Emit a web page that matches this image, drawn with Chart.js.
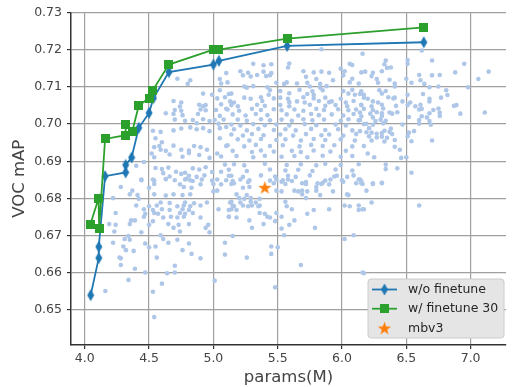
<!DOCTYPE html>
<html>
<head>
<meta charset="utf-8">
<script src="https://cdn.jsdelivr.net/npm/chart.js@4/dist/chart.umd.min.js"></script>
<style>
  html, body { margin: 0; padding: 0; background: #fff; }
  #chart { display: block; }
</style>
</head>
<body>
<canvas id="chart" width="514" height="387"></canvas>
<script>
// axis ticks
const xTicks = [4.0, 4.5, 5.0, 5.5, 6.0, 6.5, 7.0];
const yTicks = [0.65, 0.66, 0.67, 0.68, 0.69, 0.70, 0.71, 0.72, 0.73];

const seriesLabels = ["w/o finetune", "w/ finetune 30", "mbv3"];

// w/o finetune
const woParams = [4.046, 4.109, 4.109, 4.158, 4.318, 4.318, 4.364, 4.42, 4.50, 4.534, 4.654, 5.0, 5.043, 5.573, 6.636];
const woMap    = [0.654, 0.664, 0.667, 0.686, 0.687, 0.689, 0.691, 0.699, 0.703, 0.707, 0.714, 0.716, 0.717, 0.721, 0.722];

// w/ finetune 30
const ftParams = [4.043, 4.107, 4.112, 4.158, 4.318, 4.318, 4.369, 4.42, 4.50, 4.527, 4.654, 5.0, 5.043, 5.573, 6.636];
const ftMap    = [0.673, 0.680, 0.672, 0.696, 0.697, 0.700, 0.698, 0.705, 0.707, 0.709, 0.716, 0.720, 0.720, 0.723, 0.726];

// mbv3
const mbv3Params = [5.40];
const mbv3Map = [0.683];

const cloud = [
  [4.72,0.7122],[4.82,0.7118],[4.80,0.7108],
  [4.69,0.7062],[4.75,0.7058],[4.74,0.7047],[4.70,0.7038],[4.75,0.7036],[4.63,0.7029],[4.69,0.7027],[4.76,0.7024],
  [4.92,0.7082],[4.99,0.7079],[4.89,0.7052],[4.92,0.7048],[4.94,0.7051],[4.90,0.7039],[4.94,0.7037],[4.88,0.7027],
  [5.05,0.7121],[5.06,0.7109],[5.10,0.7137],[5.11,0.7112],[5.05,0.7091],[5.03,0.7069],[5.09,0.7072],[5.12,0.7081],
  [5.06,0.7053],[5.10,0.7041],[5.02,0.7038],[5.05,0.7022],[5.08,0.7012],[5.04,0.7001],
  [4.70,0.7012],[4.78,0.7009],[4.84,0.7011],[4.87,0.7002],[4.92,0.7013],[4.97,0.7008],[5.01,0.7011],[5.05,0.6989],[5.10,0.6992],
  [4.69,0.6983],[4.75,0.6988],[4.82,0.6991],[4.87,0.6986],[4.92,0.6989],[4.97,0.6981],
  [4.53,0.6982],[4.59,0.6979],[4.55,0.6962],[4.60,0.6951],[4.58,0.6941],[4.54,0.6938],[4.59,0.6931],[4.63,0.6928],
  [4.69,0.6942],[4.75,0.6931],[4.81,0.6929],[4.85,0.6941],[4.90,0.6938],[4.95,0.6931],
  [4.52,0.6921],[4.54,0.6911],[4.66,0.6918],[4.76,0.6912],[4.81,0.6922],[4.89,0.6917],[4.97,0.6909],[5.06,0.6913],
  [4.40,0.6888],[4.46,0.6898],[4.55,0.6882],[4.60,0.6879],[4.65,0.6883],[4.71,0.6872],[4.78,0.6869],[4.84,0.6881],
  [4.89,0.6878],[4.94,0.6884],[4.99,0.6871],[4.61,0.6868],[4.66,0.6859],[4.75,0.6866],[4.81,0.6861],[4.87,0.6858],[4.93,0.6862],
  [4.44,0.6851],[4.54,0.6848],[4.63,0.6852],[4.70,0.6849],[4.79,0.6853],[4.84,0.6847],[4.91,0.6851],[4.99,0.6848],
  [5.05,0.6962],[5.10,0.6941],[5.03,0.6921],[5.09,0.6891],[5.06,0.6872],[5.12,0.6861],

  [5.84,0.7201],[6.16,0.7189],
  [5.31,0.7162],[5.39,0.7158],[5.45,0.7161],[5.59,0.7163],[6.06,0.7162],[6.08,0.7159],
  [5.58,0.7152],[5.99,0.7149],
  [5.21,0.7142],[5.27,0.7138],[5.39,0.7141],[5.45,0.7137],[5.70,0.7142],[5.78,0.7139],[5.84,0.7141],[5.90,0.7138],[6.02,0.7142],[6.15,0.7139],
  [5.23,0.7131],[5.29,0.7128],[5.34,0.7132],[5.41,0.7129],[5.44,0.7131],[5.72,0.7127],[6.01,0.7131],
  [5.80,0.7121],[5.93,0.7118],[6.08,0.7122],
  [5.49,0.7111],[5.55,0.7108],[5.57,0.7112],[5.65,0.7109],[5.73,0.7111],[5.83,0.7108],[6.06,0.7112],[6.13,0.7109],
  [5.24,0.7101],[5.26,0.7098],[5.31,0.7102],[5.42,0.7099],[5.75,0.7101],[5.83,0.7098],[5.88,0.7102],
  [5.44,0.7091],[5.52,0.7089],[5.67,0.7092],[5.77,0.7088],[5.85,0.7091],[6.01,0.7089],[6.08,0.7092],[6.15,0.7088],
  [5.14,0.7082],[5.43,0.7079],[5.59,0.7083],[5.73,0.7081],[5.78,0.7078],[6.05,0.7082],[6.10,0.7079],
  [5.24,0.7071],[5.29,0.7068],[5.37,0.7072],[5.47,0.7069],[5.52,0.7071],[5.58,0.7068],[5.70,0.7072],[5.78,0.7069],[5.87,0.7071],[5.99,0.7068],
  [5.13,0.7061],[5.16,0.7058],[5.38,0.7062],[5.59,0.7059],[5.65,0.7061],[5.71,0.7058],[5.82,0.7062],[5.90,0.7059],[5.92,0.7061],[6.03,0.7058],[6.09,0.7062],
  [5.14,0.7051],[5.19,0.7048],[5.34,0.7052],[5.40,0.7049],[5.52,0.7051],[5.59,0.7048],[5.75,0.7052],[5.87,0.7049],[5.95,0.7051],[6.04,0.7048],[6.15,0.7052],
  [5.11,0.7039],[5.20,0.7036],[5.30,0.7041],[5.37,0.7038],[5.47,0.7040],[5.53,0.7037],[5.63,0.7039],[5.70,0.7036],[5.80,0.7041],[5.86,0.7038],[5.97,0.7040],[6.05,0.7037],[6.11,0.7039],
  [5.15,0.7026],[5.25,0.7023],[5.33,0.7027],[5.42,0.7024],[5.57,0.7026],[5.66,0.7023],[5.76,0.7027],[5.82,0.7024],[5.92,0.7026],[6.01,0.7023],[6.09,0.7027],
  [5.19,0.7012],[5.26,0.7009],[5.37,0.7013],[5.44,0.7010],[5.53,0.7012],[5.61,0.7009],[5.70,0.7013],[5.77,0.7010],[5.86,0.7012],[5.99,0.7009],[6.05,0.7013],[6.13,0.7010],
  [5.14,0.6999],[5.21,0.6996],[5.31,0.7000],[5.40,0.6997],[5.49,0.6999],[5.59,0.6996],[5.71,0.7000],[5.80,0.6997],[5.95,0.6999],[6.03,0.6996],[6.17,0.7000],
  [5.16,0.6986],[5.26,0.6983],[5.35,0.6987],[5.47,0.6984],[5.56,0.6986],[5.64,0.6983],[5.76,0.6987],[5.87,0.6984],[5.97,0.6986],[6.08,0.6983],
  [5.14,0.6972],[5.23,0.6969],[5.30,0.6973],[5.39,0.6970],[5.52,0.6972],[5.62,0.6969],[5.72,0.6973],[5.84,0.6970],[5.90,0.6972],[6.01,0.6969],[6.11,0.6973],
  [5.19,0.6959],[5.28,0.6956],[5.37,0.6960],[5.49,0.6957],[5.56,0.6959],[5.68,0.6956],[5.78,0.6960],[5.87,0.6957],[5.99,0.6959],[6.10,0.6956],
  [5.11,0.6943],[5.24,0.6940],[5.33,0.6944],[5.44,0.6941],[5.54,0.6943],[5.67,0.6940],[5.76,0.6944],[5.85,0.6941],[5.94,0.6943],[6.08,0.6940],
  [5.15,0.6928],[5.30,0.6925],[5.37,0.6929],[5.47,0.6926],[5.61,0.6928],[5.68,0.6925],[5.78,0.6929],[5.91,0.6926],[6.03,0.6928],
  [5.18,0.6914],[5.31,0.6911],[5.40,0.6915],[5.53,0.6912],[5.63,0.6914],[5.73,0.6911],[5.85,0.6915],[5.99,0.6912],[6.08,0.6914],
  [5.16,0.6892],[5.24,0.6889],[5.40,0.6893],[5.57,0.6890],[5.68,0.6892],[5.80,0.6889],[5.87,0.6893],[5.99,0.6890],[6.13,0.6892],
  [5.12,0.6877],[5.26,0.6874],[5.44,0.6878],[5.56,0.6875],[5.66,0.6877],[5.77,0.6874],[5.95,0.6878],[6.08,0.6875],
  [5.14,0.6861],[5.23,0.6858],[5.37,0.6862],[5.48,0.6859],[5.58,0.6861],[5.64,0.6858],[5.75,0.6862],[5.94,0.6859],[5.96,0.6861],[6.04,0.6858],[6.09,0.6862],
  [5.15,0.6847],[5.27,0.6844],[5.44,0.6848],[5.53,0.6845],[5.61,0.6847],[5.72,0.6844],[5.87,0.6848],[6.01,0.6845],[6.15,0.6847],

  [6.62,0.7198],
  [6.34,0.7171],[6.51,0.7172],[6.70,0.7171],[6.95,0.7162],[6.33,0.7161],[6.51,0.7162],
  [6.35,0.7151],[6.38,0.7152],
  [6.18,0.7141],[6.24,0.7138],[6.31,0.7142],[6.88,0.7139],[7.14,0.7141],
  [6.23,0.7129],[6.60,0.7132],[6.70,0.7131],[6.76,0.7132],
  [6.27,0.7121],[6.37,0.7119],[6.50,0.7122],[6.61,0.7118],[7.06,0.7121],
  [6.28,0.7111],[6.41,0.7109],[6.54,0.7111],[6.64,0.7108],
  [6.41,0.7101],[6.68,0.7099],[6.75,0.7101],[6.98,0.7099],
  [6.29,0.7091],[6.34,0.7089],[6.81,0.7091],
  [6.14,0.7081],[6.17,0.7079],[6.31,0.7082],[6.51,0.7079],[6.63,0.7081],[6.82,0.7078],
  [6.17,0.7071],[6.20,0.7068],[6.36,0.7072],[6.40,0.7069],[6.41,0.7071],[6.68,0.7068],[6.77,0.7071],
  [6.24,0.7061],[6.28,0.7058],[6.47,0.7061],[6.53,0.7058],[6.68,0.7061],
  [6.15,0.7051],[6.23,0.7048],[6.31,0.7052],[6.42,0.7049],[6.51,0.7051],[6.57,0.7048],[6.61,0.7052],[6.87,0.7049],[6.89,0.7051],
  [6.17,0.7041],[6.24,0.7038],[6.32,0.7042],[6.60,0.7039],[6.62,0.7041],[6.71,0.7038],[6.75,0.7042],
  [6.14,0.7031],[6.22,0.7028],[6.27,0.7032],[6.31,0.7029],[6.37,0.7031],[6.39,0.7028],[6.43,0.7032],[6.68,0.7029],[6.76,0.7031],[6.92,0.7028],[7.11,0.7031],
  [6.15,0.7021],[6.24,0.7018],[6.31,0.7022],[6.52,0.7019],[6.62,0.7021],[6.66,0.7018],[6.76,0.7022],
  [6.14,0.7011],[6.26,0.7008],[6.30,0.7012],[6.34,0.7009],[6.60,0.7011],[6.68,0.7008],
  [6.19,0.7001],[6.24,0.6998],[6.32,0.7002],[6.47,0.6999],[6.60,0.7001],[6.69,0.6998],
  [6.21,0.6989],[6.38,0.6988],[6.14,0.6981],[6.19,0.6978],[6.33,0.6982],[6.37,0.6979],[6.56,0.6981],
  [6.23,0.6977],[6.27,0.6974],[6.31,0.6976],[6.39,0.6973],[6.52,0.6977],
  [6.21,0.6967],[6.27,0.6964],[6.31,0.6966],[6.35,0.6963],[6.51,0.6967],
  [6.23,0.6956],[6.33,0.6953],[6.41,0.6957],[6.54,0.6954],[6.70,0.6956],
  [6.17,0.6941],[6.41,0.6939],[6.45,0.6931],
  [6.20,0.6921],[6.25,0.6911],[6.46,0.6909],[6.50,0.6911],
  [6.34,0.6891],[6.34,0.6879],[6.43,0.6881],[6.54,0.6869],
  [6.14,0.6851],[6.24,0.6841],[6.31,0.6842],

  [4.44,0.6849],[4.53,0.6851],[4.54,0.6839],[4.63,0.6852],[4.74,0.6838],[4.78,0.6851],[4.82,0.6849],[4.90,0.6838],[5.00,0.6839],[5.03,0.6851],[5.06,0.6838],[5.10,0.6849],
  [4.28,0.6831],[4.50,0.6829],[4.77,0.6831],[4.83,0.6829],
  [4.35,0.6811],[4.41,0.6809],[4.54,0.6811],[4.63,0.6808],[4.69,0.6811],[4.76,0.6809],[4.82,0.6811],[5.00,0.6819],[5.03,0.6821],
  [4.37,0.6821],[4.42,0.6799],[4.22,0.6801],
  [4.59,0.6789],[4.66,0.6788],[4.78,0.6789],[4.85,0.6787],[4.95,0.6789],[4.40,0.6781],[4.50,0.6779],[4.56,0.6781],
  [4.72,0.6779],[4.77,0.6781],[4.82,0.6779],[4.90,0.6781],[5.13,0.6789],
  [4.46,0.6771],[4.53,0.6769],[4.60,0.6771],[4.66,0.6769],[4.76,0.6771],[4.81,0.6769],[5.04,0.6771],[5.12,0.6769],
  [4.24,0.6761],[4.47,0.6759],[4.54,0.6761],[4.57,0.6759],[4.74,0.6761],[4.78,0.6759],[4.84,0.6761],
  [4.46,0.6751],[4.61,0.6749],[4.67,0.6751],[4.72,0.6749],[4.77,0.6751],[4.90,0.6749],[5.12,0.6751],
  [4.39,0.6741],[4.53,0.6739],[4.36,0.6741],
  [4.19,0.6731],[4.24,0.6729],[4.35,0.6731],[4.50,0.6729],[4.65,0.6731],[4.73,0.6729],[4.81,0.6731],[4.96,0.6729],
  [4.69,0.6721],[4.74,0.6711],[4.44,0.6709],[4.94,0.6721],[4.97,0.6709],[4.23,0.6711],
  [4.59,0.6701],[4.61,0.6691],[4.34,0.6699],[4.31,0.6691],[4.35,0.6689],
  [4.22,0.6681],[4.47,0.6679],[4.65,0.6681],[4.81,0.6679],[5.09,0.6681],
  [4.30,0.6671],[4.50,0.6669],[4.55,0.6671],[4.72,0.6689],
  [4.32,0.6661],[4.38,0.6659],[4.76,0.6661],[4.83,0.6651],[5.09,0.6649],
  [4.27,0.6641],[4.28,0.6639],[4.56,0.6641],[4.90,0.6639],
  [4.28,0.6621],[4.70,0.6619],
  [4.39,0.6611],
  [4.47,0.6601],[4.64,0.6599],[4.70,0.6601],
  [4.34,0.6581],[5.01,0.6579],
  [4.60,0.6571],
  [4.16,0.6551],[4.53,0.6549],
  [4.54,0.6481],

  [5.14,0.6839],[5.16,0.6841],[5.23,0.6829],[5.28,0.6831],[5.21,0.6851],[5.28,0.6849],[5.47,0.6841],[5.49,0.6851],
  [5.54,0.6849],[5.56,0.6839],[5.58,0.6851],[5.69,0.6841],[5.72,0.6839],[5.81,0.6841],[5.84,0.6839],[5.85,0.6842],
  [5.90,0.6838],[5.91,0.6851],[6.00,0.6849],[6.11,0.6841],[6.13,0.6851],[6.16,0.6839],
  [5.49,0.6821],[5.53,0.6819],[5.63,0.6821],[5.66,0.6819],[5.69,0.6821],[5.73,0.6819],[5.80,0.6821],[5.93,0.6819],[5.80,0.6831],
  [5.18,0.6811],[5.26,0.6809],[5.69,0.6811],[5.83,0.6809],[6.04,0.6811],[6.05,0.6809],
  [5.20,0.6801],[5.24,0.6799],[5.29,0.6801],[5.36,0.6799],[5.72,0.6801],
  [5.14,0.6791],[5.21,0.6789],[5.29,0.6791],[5.33,0.6789],[5.56,0.6791],
  [5.15,0.6781],[5.16,0.6779],[5.23,0.6781],[5.27,0.6779],[5.30,0.6781],[5.35,0.6779],[5.36,0.6781],[5.57,0.6779],[6.02,0.6781],[6.06,0.6779],[6.13,0.6781],
  [5.14,0.6771],[5.18,0.6769],[5.61,0.6771],[5.78,0.6769],[5.90,0.6771],[6.13,0.6769],[6.16,0.6771],
  [5.36,0.6761],[5.40,0.6759],[5.49,0.6761],[5.73,0.6759],
  [5.12,0.6751],[5.18,0.6749],[5.42,0.6751],[5.44,0.6749],[5.53,0.6751],
  [5.28,0.6741],[5.48,0.6739],[5.63,0.6741],
  [5.39,0.6731],[5.59,0.6729],
  [5.30,0.6721],[5.53,0.6719],[5.79,0.6721],
  [5.55,0.6701],[5.15,0.6699],
  [6.09,0.6701],[6.02,0.6691],
  [5.45,0.6671],[5.50,0.6669],
  [5.45,0.6651],[5.26,0.6641],[5.68,0.6621],[6.16,0.6601],[5.48,0.6561],

  [6.15,0.6841],[6.24,0.6839],[6.31,0.6841],[6.19,0.6821],[6.23,0.6789],[6.17,0.6771],[6.60,0.6781],[6.17,0.6599]
];

const FONT = "'DejaVu Sans', sans-serif";
const BLUE = "#1f77b4";
const GREEN = "#2ca02c";
const ORANGE = "#ff7f0e";

function marker(w, h, draw) {
  const c = document.createElement("canvas");
  c.width = w;
  c.height = h;
  draw(c.getContext("2d"), w, h);
  return c;
}

const diamond = marker(8, 13, (ctx, w, h) => {
  ctx.fillStyle = BLUE;
  ctx.beginPath();
  ctx.moveTo(w / 2, 0.5);
  ctx.lineTo(w - 0.5, h / 2);
  ctx.lineTo(w / 2, h - 0.5);
  ctx.lineTo(0.5, h / 2);
  ctx.closePath();
  ctx.fill();
});

const square = marker(9, 9, (ctx, w, h) => {
  ctx.fillStyle = GREEN;
  ctx.fillRect(0, 0, w, h);
});

const star = marker(15, 15, (ctx, w, h) => {
  ctx.fillStyle = ORANGE;
  ctx.beginPath();
  for (let i = 0; i < 10; i++) {
    const r = i % 2 ? 2.8 : 7;
    const a = -Math.PI / 2 + i * Math.PI / 5;
    ctx.lineTo(w / 2 + r * Math.cos(a), h / 2 + 0.8 + r * Math.sin(a));
  }
  ctx.closePath();
  ctx.fill();
});

const toPoints = (xs, ys) => xs.map((x, i) => ({ x, y: ys[i] }));

// legend box in the lower right corner, like matplotlib's
const legendBox = {
  id: "legendBox",
  afterDraw(chart) {
    const ctx = chart.ctx;
    const area = chart.chartArea;
    const w = 136, h = 59;
    const x = area.right - w - 2, y = area.bottom - h - 7;
    const r = 3;
    ctx.save();
    ctx.beginPath();
    ctx.moveTo(x + r, y);
    ctx.arcTo(x + w, y, x + w, y + h, r);
    ctx.arcTo(x + w, y + h, x, y + h, r);
    ctx.arcTo(x, y + h, x, y, r);
    ctx.arcTo(x, y, x + w, y, r);
    ctx.closePath();
    ctx.fillStyle = "#e5e5e5";
    ctx.fill();
    ctx.strokeStyle = "#cccccc";
    ctx.lineWidth = 1;
    ctx.stroke();

    const items = chart.data.datasets.filter(d => d.label);
    items.forEach((d, i) => {
      const cy = y + 10.5 + i * 19.2;
      const hx = x + 16.5;
      if (d.showLine) {
        ctx.strokeStyle = d.borderColor;
        ctx.lineWidth = d.borderWidth;
        ctx.beginPath();
        ctx.moveTo(x + 4, cy);
        ctx.lineTo(x + 29, cy);
        ctx.stroke();
      }
      const m = d.pointStyle;
      ctx.drawImage(m, hx - m.width / 2, cy - m.height / 2);
      ctx.fillStyle = "#262626";
      ctx.font = "12.5px " + FONT;
      ctx.textBaseline = "middle";
      ctx.textAlign = "left";
      ctx.fillText(d.label, x + 40, cy + 0.5);
    });
    ctx.restore();
  }
};

new Chart(document.getElementById("chart"), {
  type: "scatter",
  data: {
    datasets: [
      {
        label: seriesLabels[0],
        data: toPoints(woParams, woMap),
        showLine: true,
        borderColor: BLUE,
        borderWidth: 1.8,
        pointStyle: diamond,
        pointRadius: 6,
        order: 2
      },
      {
        label: seriesLabels[1],
        data: toPoints(ftParams, ftMap),
        showLine: true,
        borderColor: GREEN,
        borderWidth: 1.8,
        pointStyle: square,
        pointRadius: 5,
        order: 1
      },
      {
        label: seriesLabels[2],
        data: toPoints(mbv3Params, mbv3Map),
        showLine: false,
        pointStyle: star,
        pointRadius: 7,
        order: 0
      },
      {
        data: cloud.map(p => ({ x: p[0], y: p[1] })),
        showLine: false,
        backgroundColor: "#aec7e8",
        borderWidth: 0,
        pointRadius: 2.3,
        order: 3
      }
    ]
  },
  options: {
    responsive: false,
    animation: false,
    events: [],
    layout: { padding: { top: 12, right: 0, bottom: 0, left: 0 } },
    plugins: {
      legend: { display: false },
      tooltip: { enabled: false }
    },
    scales: {
      x: {
        type: "linear",
        min: 3.893,
        max: 7.275,
        afterBuildTicks: s => { s.ticks = xTicks.map(v => ({ value: v })); },
        afterFit: s => { s.height = 42; },
        ticks: {
          callback: v => v.toFixed(1),
          font: { family: FONT, size: 12.5 },
          color: "#444",
          padding: 2,
          maxRotation: 0,
          autoSkip: false
        },
        grid: { color: "#a0a0a0", lineWidth: 1.2, tickLength: 4, tickColor: "#333", tickWidth: 1.2 },
        border: { color: "#333", width: 1.5 },
        title: {
          display: true,
          text: "params(M)",
          font: { family: FONT, size: 16.5, lineHeight: 1.1 },
          color: "#444",
          padding: 0
        }
      },
      y: {
        type: "linear",
        min: 0.6406,
        max: 0.73,
        afterBuildTicks: s => { s.ticks = yTicks.map(v => ({ value: v })); },
        afterFit: s => { s.width = 71; },
        ticks: {
          callback: v => v.toFixed(2),
          font: { family: FONT, size: 12.5 },
          color: "#444",
          padding: 5,
          autoSkip: false
        },
        grid: { color: "#a0a0a0", lineWidth: 1.2, tickLength: 4, tickColor: "#333", tickWidth: 1.2 },
        border: { color: "#333", width: 1.5 },
        title: {
          display: true,
          text: "VOC mAP",
          font: { family: FONT, size: 16.5, lineHeight: 1.1 },
          color: "#444",
          padding: { top: 11, bottom: 0 }
        }
      }
    }
  },
  plugins: [legendBox]
});
</script>
</body>
</html>
